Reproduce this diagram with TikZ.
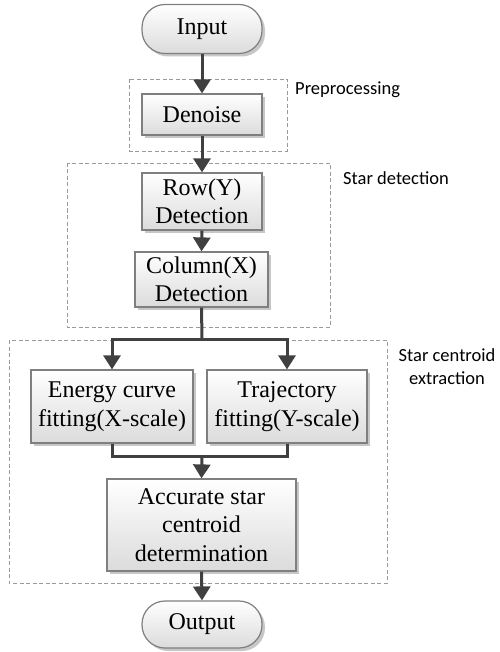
\documentclass[tikz,border=0pt]{standalone}
\usepackage{fontspec}
\setmainfont{Liberation Serif}
\newfontfamily\labfont{Carlito}
\usetikzlibrary{arrows.meta,shadows}
\definecolor{linec}{HTML}{404040}
\definecolor{boxedge}{HTML}{7F7F7F}
\definecolor{dashc}{HTML}{9A9A9A}
\tikzset{
  procbox/.style={draw=boxedge, line width=1.2pt, top color=white, bottom color=black!14,
    drop shadow={shadow xshift=3pt, shadow yshift=-3pt, fill=black!22, opacity=1},
    align=center, inner sep=0pt, font=\fontsize{24}{28.5}\selectfont},
  termbox/.style={procbox, rounded corners=23pt},
  groupbox/.style={draw=dashc, line width=0.9pt, dash pattern=on 4pt off 2.5pt},
  flow/.style={draw=linec, line width=3pt, -{Triangle[length=14pt,width=17pt]}},
  flowline/.style={draw=linec, line width=3pt},
  grouplabel/.style={font=\labfont\fontsize{18.5}{23}\selectfont, inner sep=0pt, align=center}
}
\begin{document}
\begin{tikzpicture}[x=1pt,y=-1pt]
\useasboundingbox (0,0) rectangle (499,652);
% group boxes
\draw[groupbox] (129,79) rectangle (287,151);
\draw[groupbox] (67,163) rectangle (330,327);
\draw[groupbox] (9,340) rectangle (387,583);
\node[grouplabel, anchor=west] (lpre) at (295,90) {Preprocessing};
\node[grouplabel, anchor=west] (ldet) at (343,178) {Star detection};
\node[grouplabel] (lcen) at (447,366.5) {Star centroid\\extraction};
% nodes
\node[termbox, minimum width=120pt, minimum height=49pt] (input) at (202,29) {Input};
\node[procbox, minimum width=120pt, minimum height=41pt] (denoise) at (202,114.5) {Denoise};
\node[procbox, minimum width=120pt, minimum height=57pt] (row) at (202,201.5) {Row(Y)\\Detection};
\node[procbox, minimum width=133pt, minimum height=55pt] (col) at (201.5,279.5) {Column(X)\\Detection};
\node[procbox, minimum width=162pt, minimum height=73pt] (energy) at (112,406.5) {Energy curve\\fitting(X-scale)};
\node[procbox, minimum width=160pt, minimum height=73pt] (traj) at (287,406.5) {Trajectory\\fitting(Y-scale)};
\node[procbox, minimum width=189pt, minimum height=92pt] (acc) at (201.5,525) {Accurate star\\centroid\\determination};
\node[termbox, minimum width=120pt, minimum height=47pt] (output) at (202,624.5) {Output};
\coordinate (sp) at (202,339);
\coordinate (mg) at (202,456);
% connectors
\draw[flow] (input.south) -- (denoise.north);
\draw[flow] (denoise.south) -- (row.north);
\draw[flow] (row.south) -- (col.north);
\draw[flowline] (col.south) -- (sp);
\draw[flow] (sp) -| (energy.north);
\draw[flow] (sp) -| (traj.north);
\draw[flowline] (energy.south) |- (mg);
\draw[flowline] (traj.south) |- (mg);
\draw[flow] (mg) -- (acc.north);
\draw[flow] (acc.south) -- (output.north);
\end{tikzpicture}
\end{document}
